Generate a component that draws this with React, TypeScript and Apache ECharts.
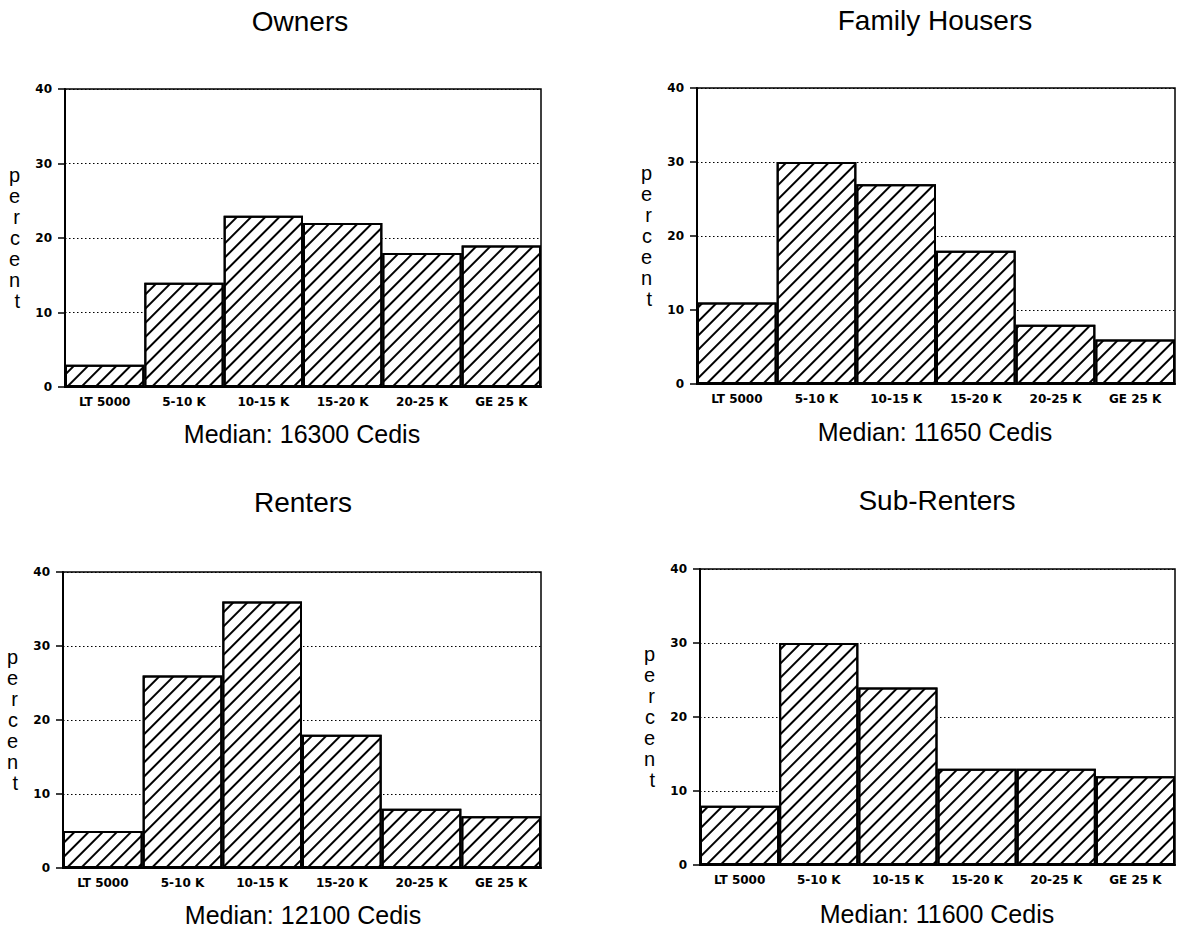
import React, { useEffect, useRef } from "react";
import * as echarts from "echarts";

const categories = ["LT 5000", "5-10 K", "10-15 K", "15-20 K", "20-25 K", "GE 25 K"];
const owners = [3, 14, 23, 22, 18, 19];
const familyHousers = [11, 30, 27, 18, 8, 6];
const renters = [5, 26, 36, 18, 8, 7];
const subRenters = [8, 30, 24, 13, 13, 12];
const panelTitles = ["Owners", "Family Housers", "Renters", "Sub-Renters"];
const medians = ["Median: 16300 Cedis", "Median: 11650 Cedis", "Median: 12100 Cedis", "Median: 11600 Cedis"];
const yTicks = [0, 10, 20, 30, 40];

const grids = [
  { left: 65, top: 89, width: 476, height: 298 },
  { left: 697, top: 88, width: 478, height: 296 },
  { left: 63, top: 572, width: 478, height: 296 },
  { left: 700, top: 569, width: 475, height: 296 },
];
const titlePos = [
  [300, 21],
  [935, 20],
  [303, 502],
  [937, 500],
];
const medianPos = [
  [302, 434],
  [935, 432],
  [303, 915],
  [937, 914],
];

export default function App() {
  const ref = useRef<HTMLDivElement>(null);
  useEffect(() => {
    if (!ref.current) return;
    const chart = echarts.init(ref.current, null, { renderer: "svg" });
    const seriesData = [owners, familyHousers, renters, subRenters];
    const textFont = "'Liberation Sans', Arial, sans-serif";
    const tickFont = "'DejaVu Sans', sans-serif";
    const mkText = (text: string, x: number, y: number, size: number) => ({
      type: "text",
      x,
      y,
      style: {
        text,
        fontFamily: textFont,
        fontSize: size,
        fill: "#000",
        textAlign: "center",
        textVerticalAlign: "middle",
      },
    });
    const option: any = {
      animation: false,
      backgroundColor: "#fff",
      graphic: [
        ...panelTitles.map((t, i) => mkText(t, titlePos[i][0], titlePos[i][1], 28)),
        ...medians.map((t, i) => mkText(t, medianPos[i][0], medianPos[i][1], 25)),
      ],
      grid: grids.map((g) => ({
        ...g,
        show: true,
        borderColor: "#000",
        borderWidth: 1.5,
        backgroundColor: "transparent",
        containLabel: false,
      })),
      xAxis: grids.map((_, i) => ({
        type: "category",
        gridIndex: i,
        data: categories,
        axisLine: { lineStyle: { color: "#000", width: 2 } },
        axisTick: { alignWithLabel: true, length: 4, lineStyle: { color: "#000" } },
        axisLabel: { fontFamily: tickFont, fontSize: 12, fontWeight: "bold", color: "#000", margin: 9, interval: 0 },
      })),
      yAxis: grids.map((_, i) => ({
        type: "value",
        gridIndex: i,
        min: 0,
        max: 40,
        interval: 10,
        name: "p\ne\nr\nc\ne\nn\nt",
        nameLocation: "middle",
        nameRotate: 0,
        nameGap: 45,
        nameTextStyle: { fontFamily: textFont, fontSize: 20, lineHeight: 21, color: "#000", padding: [0, 0, 16, 0] },
        axisLine: { show: true, lineStyle: { color: "#000", width: 2 } },
        axisTick: { show: true, length: 7, lineStyle: { color: "#000", width: 1.5 } },
        axisLabel: {
          fontFamily: tickFont,
          fontSize: 12,
          fontWeight: "bold",
          color: "#000",
          margin: 13,
          formatter: (v: number) => (yTicks.includes(v) ? String(v) : ""),
        },
        splitLine: {
          show: true,
          lineStyle: { color: "#000", type: [1.5, 2.5], width: 1.2 },
        },
      })),
      series: seriesData.map((d, i) => ({
        type: "bar",
        xAxisIndex: i,
        yAxisIndex: i,
        data: d,
        barCategoryGap: "0%",
        itemStyle: {
          color: "#fff",
          borderColor: "#000",
          borderWidth: 2,
          decal: {
            symbol: "rect",
            symbolSize: 1,
            color: "#000",
            backgroundColor: "#fff",
            dashArrayX: [1, 0],
            dashArrayY: [1.2, 8],
            rotation: -Math.PI / 4,
          },
        },
      })),
    };
    chart.setOption(option);
    return () => chart.dispose();
  }, []);
  return <div ref={ref} style={{ position: "absolute", left: 0, top: 0, width: 1179, height: 932 }} />;
}
